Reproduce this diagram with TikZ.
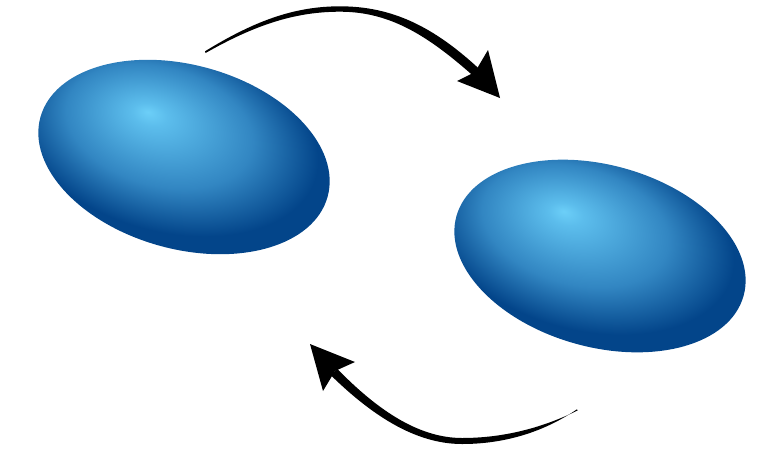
\documentclass[tikz,border=0pt]{standalone}
\definecolor{hl}{HTML}{6CCFF8}
\definecolor{hlb}{HTML}{5CBDEC}
\definecolor{midb}{HTML}{3286C2}
\definecolor{dk}{HTML}{03458A}
\pgfdeclareradialshading{blob}{\pgfpoint{-7.9bp}{9.2bp}}{color(0bp)=(hl); color(3bp)=(hlb); color(16bp)=(midb); color(26bp)=(dk); color(50bp)=(dk)}
\tikzset{
  blobshape/.style={shading=blob},
  arrowfill/.style={fill=black}
}
\begin{document}
\begin{tikzpicture}[x=1pt,y=-1pt]
\useasboundingbox (0,0) rectangle (780,459);
% left ellipse
\begin{scope}[transform canvas={shift={(184,157)},rotate=-15.5}]
  \shade[blobshape] (0,0) ellipse [x radius=149, y radius=92];
\end{scope}
% right ellipse
\begin{scope}[transform canvas={shift={(600,256)},rotate=-15.5}]
  \shade[blobshape] (0,0) ellipse [x radius=149, y radius=91];
\end{scope}
% top arrow (tapered shaft)
\fill[arrowfill] (205,51.3) .. controls (255,20.5) and (295,6.3) .. (340,6.3)
  .. controls (392,6.3) and (434,26.5) .. (481,70.6)
  -- (475,77.4)
  .. controls (428,35.5) and (390,11.7) .. (340,11.7)
  .. controls (296,11.7) and (256,24.3) .. (205.6,53) -- cycle;
\fill[arrowfill] (500,98) -- (488,50) -- (475,72) -- (457,81) -- cycle;
% bottom arrow (tapered shaft)
\fill[arrowfill] (577,409.3) .. controls (540,434.5) and (500,444) .. (462,444)
  .. controls (414,444) and (370,413.5) .. (330.8,375.2)
  -- (337.2,368.8)
  .. controls (374,406.5) and (416,438) .. (462,438)
  .. controls (500,438) and (539,429.5) .. (577.5,410.5) -- cycle;
\fill[arrowfill] (310,344) -- (323,391) -- (335,371) -- (355,362) -- cycle;
\end{tikzpicture}
\end{document}
